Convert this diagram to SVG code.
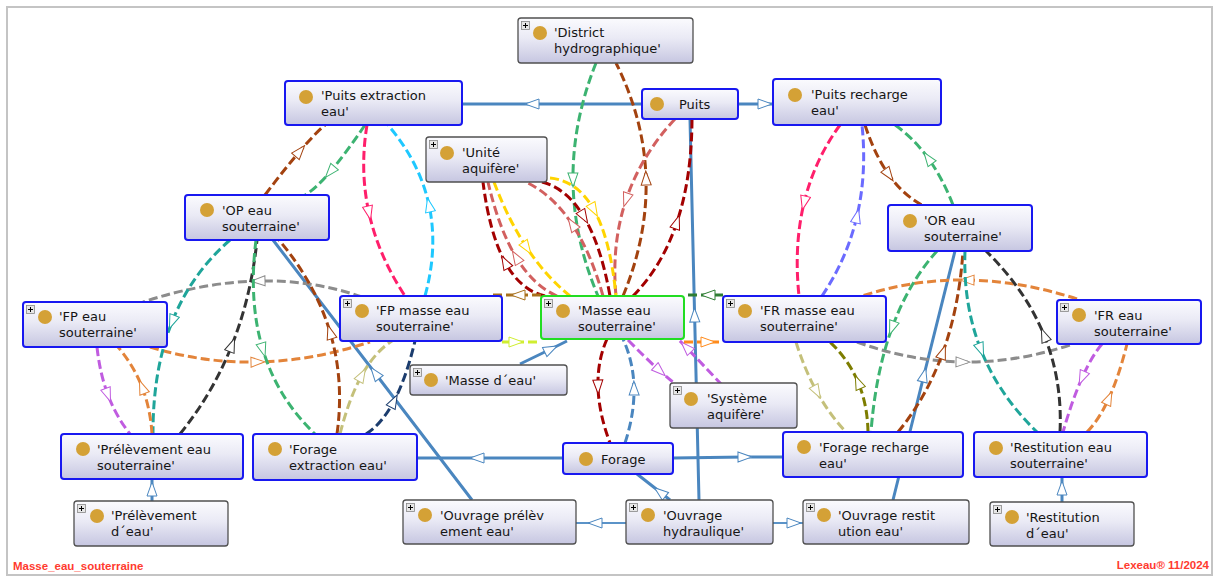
<svg xmlns="http://www.w3.org/2000/svg" width="1215" height="577" viewBox="0 0 1215 577">
<style>
.nb{fill:url(#ng);stroke:#1818f0;stroke-width:2}
.ng{fill:url(#ng);stroke:#505050;stroke-width:1.3}
.ngr{fill:url(#ng);stroke:#22dd22;stroke-width:2}
.dot{fill:#d4a136}
.t{font-family:"DejaVu Sans",sans-serif;font-size:13px;fill:#151515}
.d{fill:none;stroke-width:3;stroke-dasharray:9 4}
.s{fill:none;stroke:#4a86bf;stroke-width:3}
.s2{fill:none;stroke:#5b93c8;stroke-width:2}
.ft{font-family:"Liberation Sans",Arial,sans-serif;font-size:11.5px;font-weight:bold;fill:#ff3b2f}
</style>
<defs>
<linearGradient id="ng" x1="0" y1="0" x2="0" y2="1">
<stop offset="0" stop-color="#fbfbfe"/><stop offset="0.45" stop-color="#eaeaf5"/><stop offset="1" stop-color="#c6c6e1"/>
</linearGradient>
<symbol id="plus" viewBox="0 0 9 9"><rect x="0.5" y="0.5" width="8" height="8" fill="#e6e6e6" stroke="#888" stroke-width="0.8"/><path d="M2,4.5 H7 M4.5,2 V7" stroke="#000" stroke-width="1"/></symbol>
<path id="tri" d="M1,1 L15,6 L1,11 Z" fill="#fff"/>
<marker id="m-brown" viewBox="0 0 16 12" refX="8" refY="6" markerWidth="16" markerHeight="12" markerUnits="userSpaceOnUse" orient="auto"><use href="#tri" stroke="#a3420f"/></marker>
<marker id="m-green" viewBox="0 0 16 12" refX="8" refY="6" markerWidth="16" markerHeight="12" markerUnits="userSpaceOnUse" orient="auto"><use href="#tri" stroke="#3cb371"/></marker>
<marker id="m-pink" viewBox="0 0 16 12" refX="8" refY="6" markerWidth="16" markerHeight="12" markerUnits="userSpaceOnUse" orient="auto"><use href="#tri" stroke="#ff1f6b"/></marker>
<marker id="m-cyan" viewBox="0 0 16 12" refX="8" refY="6" markerWidth="16" markerHeight="12" markerUnits="userSpaceOnUse" orient="auto"><use href="#tri" stroke="#1ec8ff"/></marker>
<marker id="m-salmon" viewBox="0 0 16 12" refX="8" refY="6" markerWidth="16" markerHeight="12" markerUnits="userSpaceOnUse" orient="auto"><use href="#tri" stroke="#d2605f"/></marker>
<marker id="m-darkred" viewBox="0 0 16 12" refX="8" refY="6" markerWidth="16" markerHeight="12" markerUnits="userSpaceOnUse" orient="auto"><use href="#tri" stroke="#a30000"/></marker>
<marker id="m-yellow" viewBox="0 0 16 12" refX="8" refY="6" markerWidth="16" markerHeight="12" markerUnits="userSpaceOnUse" orient="auto"><use href="#tri" stroke="#ffd400"/></marker>
<marker id="m-teal" viewBox="0 0 16 12" refX="8" refY="6" markerWidth="16" markerHeight="12" markerUnits="userSpaceOnUse" orient="auto"><use href="#tri" stroke="#1fa59a"/></marker>
<marker id="m-black" viewBox="0 0 16 12" refX="8" refY="6" markerWidth="16" markerHeight="12" markerUnits="userSpaceOnUse" orient="auto"><use href="#tri" stroke="#333"/></marker>
<marker id="m-violet" viewBox="0 0 16 12" refX="8" refY="6" markerWidth="16" markerHeight="12" markerUnits="userSpaceOnUse" orient="auto"><use href="#tri" stroke="#c05ce0"/></marker>
<marker id="m-orange" viewBox="0 0 16 12" refX="8" refY="6" markerWidth="16" markerHeight="12" markerUnits="userSpaceOnUse" orient="auto"><use href="#tri" stroke="#e3843a"/></marker>
<marker id="m-orange2" viewBox="0 0 16 12" refX="8" refY="6" markerWidth="16" markerHeight="12" markerUnits="userSpaceOnUse" orient="auto"><use href="#tri" stroke="#ff8a1a"/></marker>
<marker id="m-gray" viewBox="0 0 16 12" refX="8" refY="6" markerWidth="16" markerHeight="12" markerUnits="userSpaceOnUse" orient="auto"><use href="#tri" stroke="#8c8c8c"/></marker>
<marker id="m-khaki" viewBox="0 0 16 12" refX="8" refY="6" markerWidth="16" markerHeight="12" markerUnits="userSpaceOnUse" orient="auto"><use href="#tri" stroke="#c4c07a"/></marker>
<marker id="m-olive" viewBox="0 0 16 12" refX="8" refY="6" markerWidth="16" markerHeight="12" markerUnits="userSpaceOnUse" orient="auto"><use href="#tri" stroke="#7d7d00"/></marker>
<marker id="m-navy" viewBox="0 0 16 12" refX="8" refY="6" markerWidth="16" markerHeight="12" markerUnits="userSpaceOnUse" orient="auto"><use href="#tri" stroke="#1c3d6e"/></marker>
<marker id="m-bluev" viewBox="0 0 16 12" refX="8" refY="6" markerWidth="16" markerHeight="12" markerUnits="userSpaceOnUse" orient="auto"><use href="#tri" stroke="#6b6bff"/></marker>
<marker id="m-ochre" viewBox="0 0 16 12" refX="8" refY="6" markerWidth="16" markerHeight="12" markerUnits="userSpaceOnUse" orient="auto"><use href="#tri" stroke="#a8701c"/></marker>
<marker id="m-lime" viewBox="0 0 16 12" refX="8" refY="6" markerWidth="16" markerHeight="12" markerUnits="userSpaceOnUse" orient="auto"><use href="#tri" stroke="#d0ee30"/></marker>
<marker id="m-dkgreen" viewBox="0 0 16 12" refX="8" refY="6" markerWidth="16" markerHeight="12" markerUnits="userSpaceOnUse" orient="auto"><use href="#tri" stroke="#2e7d32"/></marker>
<marker id="m-steel" viewBox="0 0 16 12" refX="8" refY="6" markerWidth="16" markerHeight="12" markerUnits="userSpaceOnUse" orient="auto"><use href="#tri" stroke="#4a86bf"/></marker>
</defs>
<rect x="0" y="0" width="1215" height="577" fill="#fff"/>
<rect x="7" y="7" width="1205" height="568" fill="#fff" stroke="#c4c4c4" stroke-width="2"/>

<g id="connectors">
<path class="s" d="M642,104 L532,104 L462,104" marker-mid="url(#m-steel)"/>
<path class="s" d="M738,104 L765,104 L773,104" marker-mid="url(#m-steel)"/>
<path class="s" d="M699,500 L694.6,315 L690,119" marker-mid="url(#m-steel)"/>
<path class="s" d="M520,364 L551,349 L567,341" marker-mid="url(#m-steel)"/>
<path class="s" d="M563,458 L477,458 L417,458" marker-mid="url(#m-steel)"/>
<path class="s" d="M673,458 L745,457 L783,457" marker-mid="url(#m-steel)"/>
<path class="s" d="M670,500 L660,492 L637,474" marker-mid="url(#m-steel)"/>
<path class="s2" d="M626,523 L595,523 L576,523" marker-mid="url(#m-steel)"/>
<path class="s2" d="M773,523 L794,523 L803,523" marker-mid="url(#m-steel)"/>
<path class="s" d="M152,501 L152,489 L152,479" marker-mid="url(#m-steel)"/>
<path class="s" d="M1062,502 L1062,488 L1062,477" marker-mid="url(#m-steel)"/>
<path class="s" d="M472,500 L375,373 L273,240" marker-mid="url(#m-steel)"/>
<path class="s" d="M893,500 L924,375 L955,251" marker-mid="url(#m-steel)"/>
<path class="d" stroke="#a3420f" d="M265,195 Q285,168.5 300,151 Q315,133.5 325,125" marker-mid="url(#m-brown)"/>
<path class="d" stroke="#3cb371" d="M365,125 Q345,154.5 330,172 Q315,189.5 305,195" marker-mid="url(#m-green)"/>
<path class="d" stroke="#ff1f6b" d="M367,125 Q359.5,170.25 369,213 Q378.5,255.75 405,296" marker-mid="url(#m-pink)"/>
<path class="d" stroke="#1ec8ff" d="M425,296 Q438.25,247.75 429,205 Q419.75,162.25 388,125" marker-mid="url(#m-cyan)"/>
<path class="d" stroke="#3cb371" d="M596,63 Q572.5,121.75 573,180 Q573.5,238.25 598,296" marker-mid="url(#m-green)"/>
<path class="d" stroke="#a3420f" d="M623,296 Q647.75,236.25 646,178 Q644.25,119.75 616,63" marker-mid="url(#m-brown)"/>
<path class="d" stroke="#d2605f" d="M675,119 Q640.75,155.75 626,200 Q611.25,244.25 616,296" marker-mid="url(#m-salmon)"/>
<path class="d" stroke="#a30000" d="M633,296 Q662.25,266.25 677,222 Q691.75,177.75 692,119" marker-mid="url(#m-darkred)"/>
<path class="d" stroke="#a30000" d="M545,296 Q520.5,290.5 505,262 Q489.5,233.5 483,182" marker-mid="url(#m-darkred)"/>
<path class="d" stroke="#d2605f" d="M557,296 Q533.25,285.5 516,257 Q498.75,228.5 488,182" marker-mid="url(#m-salmon)"/>
<path class="d" stroke="#ffd400" d="M494,182 Q508,219.5 527,248 Q546,276.5 570,296" marker-mid="url(#m-yellow)"/>
<path class="d" stroke="#d2605f" d="M603,296 Q590.75,252.25 572,224 Q553.25,195.75 528,183" marker-mid="url(#m-salmon)"/>
<path class="d" stroke="#a30000" d="M542,182 Q567,188.5 584,217 Q601,245.5 610,296" marker-mid="url(#m-darkred)"/>
<path class="d" stroke="#ffd400" d="M550,178 Q577.5,180.5 594,210 Q610.5,239.5 616,296" marker-mid="url(#m-yellow)"/>
<path class="d" stroke="#a30000" d="M607,339 Q597.25,361 598,387 Q598.75,413 610,443" marker-mid="url(#m-darkred)"/>
<path class="d" stroke="#4a86bf" d="M625,443 Q634.5,414 634,388 Q633.5,362 623,339" marker-mid="url(#m-steel)"/>
<path class="d" stroke="#c05ce0" d="M628,340 Q645.5,358 660,371 Q674.5,384 686,392" marker-mid="url(#m-violet)"/>
<path class="d" stroke="#c05ce0" d="M722,385 L686,347 L677,338" marker-mid="url(#m-violet)"/>
<path class="d" stroke="#a8701c" d="M541,295 L518,295 L490,295" marker-mid="url(#m-ochre)"/>
<path class="d" stroke="#d0ee30" d="M502,342 L516,342 L541,342" marker-mid="url(#m-lime)"/>
<path class="d" stroke="#2e7d32" d="M723,295 L708,295 L684,295" marker-mid="url(#m-dkgreen)"/>
<path class="d" stroke="#ff8a1a" d="M684,342 L708,342 L723,342" marker-mid="url(#m-orange2)"/>
<path class="d" stroke="#8c8c8c" d="M362,297 Q312.75,279.75 258,281 Q203.25,282.25 143,302" marker-mid="url(#m-gray)"/>
<path class="d" stroke="#e3843a" d="M150,347 Q203,363.25 258,362 Q313,360.75 370,342" marker-mid="url(#m-orange)"/>
<path class="d" stroke="#e3843a" d="M1077,299 Q1020.75,280.75 967,280 Q913.25,279.25 862,296" marker-mid="url(#m-orange)"/>
<path class="d" stroke="#8c8c8c" d="M857,342 Q909.75,361.25 963,362 Q1016.25,362.75 1070,345" marker-mid="url(#m-gray)"/>
<path class="d" stroke="#1fa59a" d="M230,240 Q191.25,273.5 172,322 Q152.75,370.5 153,434" marker-mid="url(#m-teal)"/>
<path class="d" stroke="#333" d="M180,434 Q212.75,393.5 232,345 Q251.25,296.5 257,240" marker-mid="url(#m-black)"/>
<path class="d" stroke="#3cb371" d="M256,240 Q248.25,301.5 263,350 Q277.75,398.5 315,434" marker-mid="url(#m-green)"/>
<path class="d" stroke="#a3420f" d="M337,434 Q344.5,380.5 330,332 Q315.5,283.5 279,240" marker-mid="url(#m-brown)"/>
<path class="d" stroke="#c05ce0" d="M97,347 Q99.75,373.25 108,395 Q116.25,416.75 130,434" marker-mid="url(#m-violet)"/>
<path class="d" stroke="#e3843a" d="M152,434 Q150.5,408.75 142,387 Q133.5,365.25 118,347" marker-mid="url(#m-orange)"/>
<path class="d" stroke="#c4c07a" d="M340,434 Q349,398.25 362,375 Q375,351.75 392,341" marker-mid="url(#m-khaki)"/>
<path class="d" stroke="#1c3d6e" d="M366,434 Q381.75,424.25 394,401 Q406.25,377.75 415,341" marker-mid="url(#m-navy)"/>
<path class="d" stroke="#ff1f6b" d="M840,125 Q814.25,160.25 804,203 Q793.75,245.75 799,296" marker-mid="url(#m-pink)"/>
<path class="d" stroke="#6b6bff" d="M822,296 Q847,258.75 857,216 Q867,173.25 862,125" marker-mid="url(#m-bluev)"/>
<path class="d" stroke="#a3420f" d="M865,125 Q874.75,155 889,175 Q903.25,195 922,205" marker-mid="url(#m-brown)"/>
<path class="d" stroke="#3cb371" d="M953,205 Q942.5,178 928,158 Q913.5,138 895,125" marker-mid="url(#m-green)"/>
<path class="d" stroke="#3cb371" d="M937,251 Q908.5,282.75 892,328 Q875.5,373.25 871,432" marker-mid="url(#m-green)"/>
<path class="d" stroke="#a3420f" d="M898,432 Q926.75,397.25 943,352 Q959.25,306.75 963,251" marker-mid="url(#m-brown)"/>
<path class="d" stroke="#1fa59a" d="M965,251 Q963,304.75 981,350 Q999,395.25 1037,432" marker-mid="url(#m-teal)"/>
<path class="d" stroke="#333" d="M1060,432 Q1062.5,380.25 1044,335 Q1025.5,289.75 986,251" marker-mid="url(#m-black)"/>
<path class="d" stroke="#c05ce0" d="M1102,344 Q1091.75,356 1082,378 Q1072.25,400 1063,432" marker-mid="url(#m-violet)"/>
<path class="d" stroke="#e3843a" d="M1087,432 Q1099,420 1109,398 Q1119,376 1127,344" marker-mid="url(#m-orange)"/>
<path class="d" stroke="#c4c07a" d="M796,342 Q804.5,369.5 817,392 Q829.5,414.5 846,432" marker-mid="url(#m-khaki)"/>
<path class="d" stroke="#7d7d00" d="M868,432 Q867.5,404.5 858,382 Q848.5,359.5 830,342" marker-mid="url(#m-olive)"/>
</g>

<g id="district-hydrographique"><rect class="ng" x="518" y="18" width="175" height="45" rx="3"/><use href="#plus" x="521" y="21" width="9" height="9"/><circle class="dot" cx="540" cy="33" r="7"/><text class="t" x="554" y="37">'District<tspan x="554" y="53">hydrographique'</tspan></text></g>
<g id="puits-extraction-eau"><rect class="nb" x="285" y="81" width="177" height="44" rx="3"/><circle class="dot" cx="306" cy="97" r="7"/><text class="t" x="321" y="100">'Puits extraction<tspan x="321" y="116">eau'</tspan></text></g>
<g id="puits"><rect class="nb" x="642" y="89" width="96" height="30" rx="3"/><circle class="dot" cx="657" cy="104" r="7"/><text class="t" x="679" y="109">Puits</text></g>
<g id="puits-recharge-eau"><rect class="nb" x="773" y="79" width="168" height="46" rx="3"/><circle class="dot" cx="795" cy="95" r="7"/><text class="t" x="811" y="99">'Puits recharge<tspan x="811" y="115">eau'</tspan></text></g>
<g id="unite-aquifere"><rect class="ng" x="426" y="137" width="121" height="45" rx="3"/><use href="#plus" x="429" y="140" width="9" height="9"/><circle class="dot" cx="447" cy="153" r="7"/><text class="t" x="462" y="157">'Unité<tspan x="462" y="173">aquifère'</tspan></text></g>
<g id="op-eau-souterraine"><rect class="nb" x="185" y="195" width="144" height="45" rx="3"/><circle class="dot" cx="207" cy="210" r="7"/><text class="t" x="222" y="215">'OP eau<tspan x="222" y="231">souterraine'</tspan></text></g>
<g id="or-eau-souterraine"><rect class="nb" x="888" y="205" width="144" height="46" rx="3"/><circle class="dot" cx="910" cy="221" r="7"/><text class="t" x="924" y="225">'OR eau<tspan x="924" y="241">souterraine'</tspan></text></g>
<g id="fp-eau-souterraine"><rect class="nb" x="23" y="302" width="144" height="45" rx="3"/><use href="#plus" x="26" y="305" width="9" height="9"/><circle class="dot" cx="45" cy="317" r="7"/><text class="t" x="59" y="321">'FP eau<tspan x="59" y="337">souterraine'</tspan></text></g>
<g id="fp-masse-eau-souterraine"><rect class="nb" x="340" y="296" width="162" height="45" rx="3"/><use href="#plus" x="343" y="299" width="9" height="9"/><circle class="dot" cx="362" cy="311" r="7"/><text class="t" x="376" y="315">'FP masse eau<tspan x="376" y="331">souterraine'</tspan></text></g>
<g id="masse-eau-souterraine"><rect class="ngr" x="541" y="296" width="143" height="43" rx="3"/><use href="#plus" x="544" y="299" width="9" height="9"/><circle class="dot" cx="563" cy="311" r="7"/><text class="t" x="578" y="315">'Masse eau<tspan x="578" y="331">souterraine'</tspan></text></g>
<g id="fr-masse-eau-souterraine"><rect class="nb" x="723" y="296" width="163" height="46" rx="3"/><use href="#plus" x="726" y="299" width="9" height="9"/><circle class="dot" cx="745" cy="311" r="7"/><text class="t" x="760" y="315">'FR masse eau<tspan x="760" y="331">souterraine'</tspan></text></g>
<g id="fr-eau-souterraine"><rect class="nb" x="1057" y="300" width="144" height="44" rx="3"/><use href="#plus" x="1060" y="303" width="9" height="9"/><circle class="dot" cx="1079" cy="315" r="7"/><text class="t" x="1094" y="320">'FR eau<tspan x="1094" y="336">souterraine'</tspan></text></g>
<g id="masse-d-eau"><rect class="ng" x="410" y="365" width="157" height="30" rx="3"/><use href="#plus" x="413" y="368" width="9" height="9"/><circle class="dot" cx="431" cy="380" r="7"/><text class="t" x="445" y="385">'Masse d´eau'</text></g>
<g id="systeme-aquifere"><rect class="ng" x="670" y="383" width="127" height="45" rx="3"/><use href="#plus" x="673" y="386" width="9" height="9"/><circle class="dot" cx="691" cy="399" r="7"/><text class="t" x="707" y="403">'Système<tspan x="707" y="419">aquifère'</tspan></text></g>
<g id="prelevement-eau-souterraine"><rect class="nb" x="61" y="434" width="182" height="45" rx="3"/><circle class="dot" cx="83" cy="449" r="7"/><text class="t" x="97" y="454">'Prélèvement eau<tspan x="97" y="470">souterraine'</tspan></text></g>
<g id="forage-extraction-eau"><rect class="nb" x="253" y="434" width="164" height="46" rx="3"/><circle class="dot" cx="275" cy="449" r="7"/><text class="t" x="289" y="454">'Forage<tspan x="289" y="470">extraction eau'</tspan></text></g>
<g id="forage"><rect class="nb" x="563" y="443" width="110" height="31" rx="3"/><circle class="dot" cx="586" cy="459" r="7"/><text class="t" x="601" y="464">Forage</text></g>
<g id="forage-recharge-eau"><rect class="nb" x="783" y="432" width="180" height="45" rx="3"/><circle class="dot" cx="804" cy="447" r="7"/><text class="t" x="819" y="452">'Forage recharge<tspan x="819" y="468">eau'</tspan></text></g>
<g id="restitution-eau-souterraine"><rect class="nb" x="974" y="432" width="173" height="45" rx="3"/><circle class="dot" cx="996" cy="448" r="7"/><text class="t" x="1010" y="452">'Restitution eau<tspan x="1010" y="468">souterraine'</tspan></text></g>
<g id="prelevement-d-eau"><rect class="ng" x="74" y="501" width="154" height="45" rx="3"/><use href="#plus" x="77" y="504" width="9" height="9"/><circle class="dot" cx="97" cy="516" r="7"/><text class="t" x="111" y="520">'Prélèvement<tspan x="111" y="536">d´eau'</tspan></text></g>
<g id="ouvrage-prelevement-eau"><rect class="ng" x="403" y="500" width="173" height="44" rx="3"/><use href="#plus" x="406" y="503" width="9" height="9"/><circle class="dot" cx="425" cy="515" r="7"/><text class="t" x="440" y="520">'Ouvrage prélèv<tspan x="440" y="536">ement eau'</tspan></text></g>
<g id="ouvrage-hydraulique"><rect class="ng" x="626" y="500" width="147" height="44" rx="3"/><use href="#plus" x="629" y="503" width="9" height="9"/><circle class="dot" cx="648" cy="515" r="7"/><text class="t" x="663" y="520">'Ouvrage<tspan x="663" y="536">hydraulique'</tspan></text></g>
<g id="ouvrage-restitution-eau"><rect class="ng" x="803" y="500" width="166" height="44" rx="3"/><use href="#plus" x="806" y="503" width="9" height="9"/><circle class="dot" cx="824" cy="515" r="7"/><text class="t" x="838" y="520">'Ouvrage restit<tspan x="838" y="536">ution eau'</tspan></text></g>
<g id="restitution-d-eau"><rect class="ng" x="990" y="502" width="144" height="44" rx="3"/><use href="#plus" x="993" y="505" width="9" height="9"/><circle class="dot" cx="1012" cy="517" r="7"/><text class="t" x="1026" y="522">'Restitution<tspan x="1026" y="538">d´eau'</tspan></text></g>

<text class="ft" x="13" y="570">Masse_eau_souterraine</text>
<text class="ft" x="1209" y="569" text-anchor="end">Lexeau® 11/2024</text>
</svg>
